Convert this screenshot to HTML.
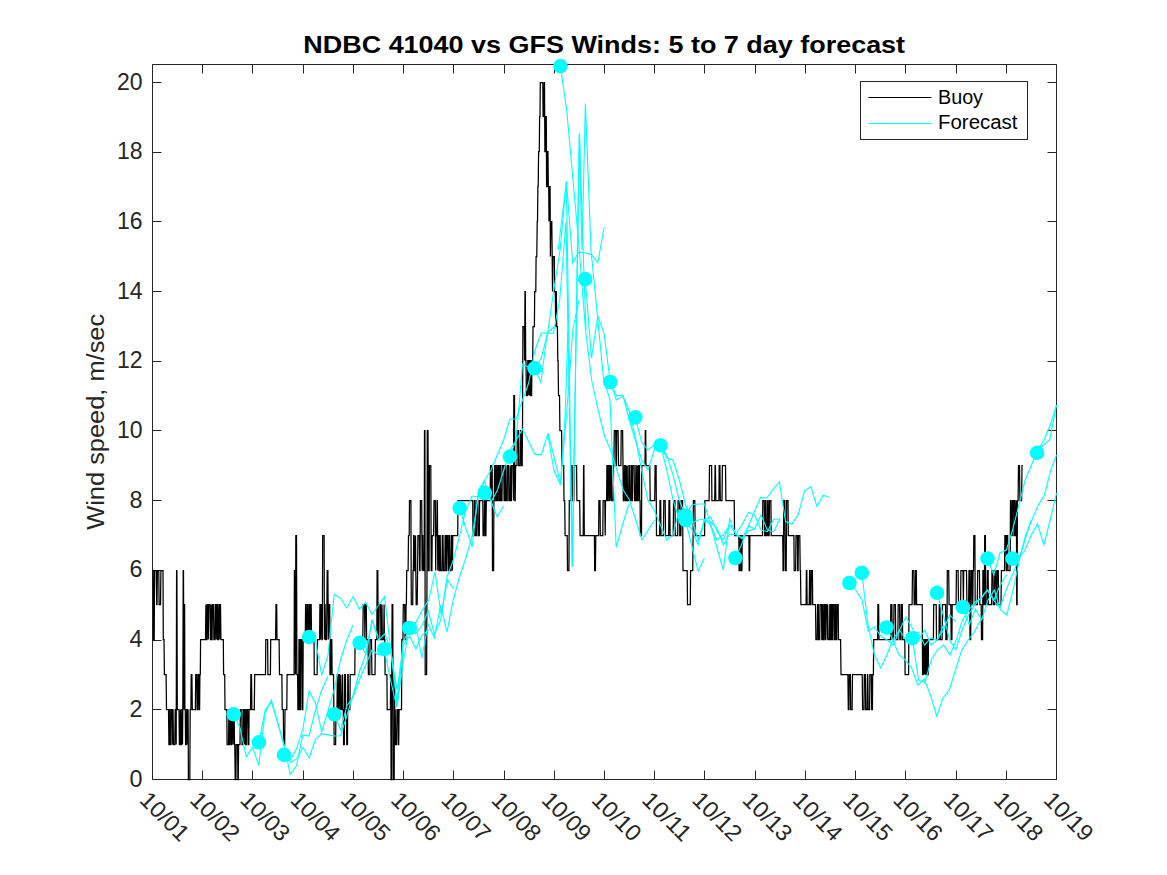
<!DOCTYPE html><html><head><meta charset="utf-8"><style>html,body{margin:0;padding:0;background:#fff;width:1167px;height:875px;overflow:hidden;position:relative}</style></head><body><svg width="1167" height="875" viewBox="0 0 1167 875" style="position:absolute;left:0;top:0"><path d="M152.5 64.5H1056.5V779.5H152.5Z" fill="none" stroke="#262626" stroke-width="1"/><path d="M152.5 779.5v-9M152.5 64.5v9M202.5 779.5v-9M202.5 64.5v9M252.5 779.5v-9M252.5 64.5v9M303.5 779.5v-9M303.5 64.5v9M353.5 779.5v-9M353.5 64.5v9M403.5 779.5v-9M403.5 64.5v9M453.5 779.5v-9M453.5 64.5v9M504.5 779.5v-9M504.5 64.5v9M554.5 779.5v-9M554.5 64.5v9M604.5 779.5v-9M604.5 64.5v9M654.5 779.5v-9M654.5 64.5v9M704.5 779.5v-9M704.5 64.5v9M755.5 779.5v-9M755.5 64.5v9M805.5 779.5v-9M805.5 64.5v9M855.5 779.5v-9M855.5 64.5v9M905.5 779.5v-9M905.5 64.5v9M956.5 779.5v-9M956.5 64.5v9M1006.5 779.5v-9M1006.5 64.5v9M1056.5 779.5v-9M1056.5 64.5v9M152.5 779.5h9M1056.5 779.5h-9M152.5 709.5h9M1056.5 709.5h-9M152.5 640.5h9M1056.5 640.5h-9M152.5 570.5h9M1056.5 570.5h-9M152.5 500.5h9M1056.5 500.5h-9M152.5 430.5h9M1056.5 430.5h-9M152.5 361.5h9M1056.5 361.5h-9M152.5 291.5h9M1056.5 291.5h-9M152.5 221.5h9M1056.5 221.5h-9M152.5 152.5h9M1056.5 152.5h-9M152.5 82.5h9M1056.5 82.5h-9" stroke="#262626" stroke-width="1" fill="none"/><polyline points="152.5,570.5 152.8,570.5 153.2,570.5 153.5,639.5 153.9,639.5 154.2,639.5 154.6,570.5 154.9,570.5 155.3,570.5 155.6,570.5 156.0,570.5 156.3,570.5 156.7,604.5 157.0,604.5 157.4,570.5 157.7,570.5 158.1,570.5 158.4,570.5 158.8,570.5 159.1,604.5 159.5,604.5 159.8,604.5 160.2,604.5 160.5,604.5 160.9,570.5 161.2,570.5 161.6,570.5 161.9,570.5 162.3,570.5 162.6,570.5 163.0,570.5 163.3,639.5 163.7,639.5 164.0,639.5 164.4,674.5 164.7,674.5 165.1,674.5 165.4,674.5 165.8,674.5 166.1,674.5 166.5,709.5 166.8,709.5 167.1,709.5 167.5,709.5 167.8,709.5 168.2,709.5 168.5,709.5 168.9,744.5 169.2,744.5 169.6,709.5 169.9,709.5 170.3,744.5 170.6,744.5 171.0,744.5 171.3,709.5 171.7,709.5 172.0,709.5 172.4,709.5 172.7,744.5 173.1,709.5 173.4,744.5 173.8,744.5 174.1,744.5 174.5,744.5 174.8,744.5 175.2,709.5 175.5,709.5 175.9,709.5 176.2,744.5 176.6,570.5 176.9,570.5 177.3,709.5 177.6,709.5 178.0,709.5 178.3,709.5 178.7,709.5 179.0,709.5 179.4,744.5 179.7,744.5 180.1,744.5 180.4,709.5 180.7,744.5 181.1,744.5 181.4,744.5 181.8,709.5 182.1,709.5 182.5,744.5 182.8,709.5 183.2,570.5 183.5,570.5 183.9,709.5 184.2,604.5 184.6,604.5 184.9,709.5 185.3,709.5 185.6,744.5 186.0,744.5 186.3,744.5 186.7,709.5 187.0,709.5 187.4,709.5 187.7,744.5 188.1,709.5 188.4,779.5 188.8,779.5 189.1,779.5 189.5,779.5 189.8,779.5 190.2,709.5 190.5,709.5 190.9,709.5 191.2,674.5 191.6,674.5 191.9,674.5 192.3,709.5 192.6,709.5 193.0,709.5 193.3,709.5 193.7,709.5 194.0,709.5 194.4,709.5 194.7,709.5 195.0,709.5 195.4,709.5 195.7,674.5 196.1,674.5 196.4,674.5 196.8,674.5 197.1,709.5 197.5,709.5 197.8,709.5 198.2,674.5 198.5,674.5 198.9,674.5 199.2,709.5 199.6,709.5 199.9,674.5 200.3,674.5 200.6,639.5 201.0,639.5 201.3,639.5 201.7,639.5 202.0,639.5 202.4,639.5 202.7,639.5 203.1,639.5 203.4,639.5 203.8,639.5 204.1,639.5 204.5,639.5 204.8,639.5 205.2,639.5 205.5,639.5 205.9,604.5 206.2,639.5 206.6,639.5 206.9,639.5 207.3,604.5 207.6,604.5 208.0,604.5 208.3,639.5 208.7,604.5 209.0,604.5 209.3,604.5 209.7,604.5 210.0,604.5 210.4,639.5 210.7,639.5 211.1,639.5 211.4,604.5 211.8,639.5 212.1,639.5 212.5,604.5 212.8,604.5 213.2,604.5 213.5,604.5 213.9,639.5 214.2,639.5 214.6,639.5 214.9,639.5 215.3,604.5 215.6,604.5 216.0,604.5 216.3,639.5 216.7,604.5 217.0,604.5 217.4,604.5 217.7,639.5 218.1,639.5 218.4,639.5 218.8,604.5 219.1,604.5 219.5,604.5 219.8,639.5 220.2,604.5 220.5,604.5 220.9,639.5 221.2,639.5 221.6,639.5 221.9,639.5 222.3,639.5 222.6,639.5 223.0,639.5 223.3,639.5 223.6,674.5 224.0,674.5 224.3,674.5 224.7,674.5 225.0,709.5 225.4,709.5 225.7,709.5 226.1,709.5 226.4,709.5 226.8,709.5 227.1,744.5 227.5,744.5 227.8,744.5 228.2,744.5 228.5,744.5 228.9,709.5 229.2,709.5 229.6,744.5 229.9,744.5 230.3,709.5 230.6,709.5 231.0,709.5 231.3,744.5 231.7,744.5 232.0,709.5 232.4,709.5 232.7,709.5 233.1,744.5 233.4,709.5 233.8,709.5 234.1,709.5 234.5,744.5 234.8,744.5 235.2,779.5 235.5,779.5 235.9,779.5 236.2,744.5 236.6,744.5 236.9,744.5 237.2,744.5 237.6,744.5 237.9,779.5 238.3,779.5 238.6,744.5 239.0,744.5 239.3,744.5 239.7,744.5 240.0,744.5 240.4,709.5 240.7,709.5 241.1,709.5 241.4,709.5 241.8,709.5 242.1,744.5 242.5,744.5 242.8,744.5 243.2,744.5 243.5,709.5 243.9,709.5 244.2,744.5 244.6,709.5 244.9,709.5 245.3,709.5 245.6,744.5 246.0,744.5 246.3,744.5 246.7,709.5 247.0,709.5 247.4,709.5 247.7,709.5 248.1,744.5 248.4,744.5 248.8,744.5 249.1,709.5 249.5,709.5 249.8,709.5 250.2,709.5 250.5,709.5 250.9,674.5 251.2,674.5 251.5,674.5 251.9,709.5 252.2,709.5 252.6,709.5 252.9,709.5 253.3,709.5 253.6,709.5 254.0,709.5 254.3,709.5 254.7,674.5 255.0,674.5 255.4,674.5 255.7,674.5 256.1,674.5 256.4,674.5 256.8,674.5 257.1,674.5 257.5,674.5 257.8,674.5 258.2,674.5 258.5,674.5 258.9,674.5 259.2,674.5 259.6,674.5 259.9,674.5 260.3,674.5 260.6,674.5 261.0,674.5 261.3,674.5 261.7,674.5 262.0,674.5 262.4,674.5 262.7,674.5 263.1,674.5 263.4,674.5 263.8,674.5 264.1,674.5 264.5,674.5 264.8,674.5 265.2,674.5 265.5,674.5 265.8,639.5 266.2,639.5 266.5,639.5 266.9,639.5 267.2,639.5 267.6,639.5 267.9,674.5 268.3,674.5 268.6,674.5 269.0,674.5 269.3,674.5 269.7,674.5 270.0,674.5 270.4,674.5 270.7,639.5 271.1,639.5 271.4,639.5 271.8,639.5 272.1,639.5 272.5,639.5 272.8,639.5 273.2,639.5 273.5,639.5 273.9,639.5 274.2,639.5 274.6,639.5 274.9,639.5 275.3,639.5 275.6,639.5 276.0,604.5 276.3,604.5 276.7,604.5 277.0,639.5 277.4,639.5 277.7,639.5 278.1,639.5 278.4,639.5 278.8,639.5 279.1,639.5 279.5,674.5 279.8,674.5 280.1,674.5 280.5,674.5 280.8,674.5 281.2,674.5 281.5,674.5 281.9,674.5 282.2,709.5 282.6,709.5 282.9,709.5 283.3,709.5 283.6,744.5 284.0,744.5 284.3,744.5 284.7,744.5 285.0,709.5 285.4,709.5 285.7,709.5 286.1,709.5 286.4,709.5 286.8,709.5 287.1,674.5 287.5,674.5 287.8,674.5 288.2,674.5 288.5,674.5 288.9,674.5 289.2,674.5 289.6,674.5 289.9,674.5 290.3,674.5 290.6,674.5 291.0,674.5 291.3,674.5 291.7,674.5 292.0,674.5 292.4,674.5 292.7,674.5 293.1,674.5 293.4,674.5 293.7,674.5 294.1,674.5 294.4,570.5 294.8,570.5 295.1,570.5 295.5,674.5 295.8,535.5 296.2,535.5 296.5,535.5 296.9,674.5 297.2,674.5 297.6,674.5 297.9,709.5 298.3,709.5 298.6,709.5 299.0,639.5 299.3,639.5 299.7,709.5 300.0,709.5 300.4,709.5 300.7,639.5 301.1,639.5 301.4,639.5 301.8,639.5 302.1,709.5 302.5,709.5 302.8,709.5 303.2,639.5 303.5,639.5 303.9,639.5 304.2,639.5 304.6,639.5 304.9,639.5 305.3,639.5 305.6,604.5 306.0,604.5 306.3,639.5 306.7,639.5 307.0,639.5 307.4,604.5 307.7,604.5 308.0,604.5 308.4,639.5 308.7,639.5 309.1,639.5 309.4,604.5 309.8,604.5 310.1,639.5 310.5,639.5 310.8,604.5 311.2,604.5 311.5,639.5 311.9,639.5 312.2,639.5 312.6,639.5 312.9,639.5 313.3,639.5 313.6,639.5 314.0,639.5 314.3,674.5 314.7,674.5 315.0,674.5 315.4,674.5 315.7,674.5 316.1,674.5 316.4,674.5 316.8,674.5 317.1,674.5 317.5,639.5 317.8,639.5 318.2,639.5 318.5,639.5 318.9,639.5 319.2,639.5 319.6,639.5 319.9,604.5 320.3,604.5 320.6,639.5 321.0,604.5 321.3,604.5 321.7,604.5 322.0,639.5 322.3,639.5 322.7,535.5 323.0,535.5 323.4,535.5 323.7,535.5 324.1,535.5 324.4,639.5 324.8,604.5 325.1,604.5 325.5,639.5 325.8,639.5 326.2,639.5 326.5,639.5 326.9,604.5 327.2,570.5 327.6,570.5 327.9,570.5 328.3,639.5 328.6,604.5 329.0,604.5 329.3,604.5 329.7,604.5 330.0,674.5 330.4,674.5 330.7,674.5 331.1,639.5 331.4,639.5 331.8,639.5 332.1,674.5 332.5,674.5 332.8,674.5 333.2,674.5 333.5,674.5 333.9,709.5 334.2,744.5 334.6,744.5 334.9,744.5 335.3,744.5 335.6,744.5 336.0,709.5 336.3,709.5 336.6,709.5 337.0,709.5 337.3,674.5 337.7,674.5 338.0,709.5 338.4,709.5 338.7,674.5 339.1,674.5 339.4,674.5 339.8,709.5 340.1,709.5 340.5,709.5 340.8,674.5 341.2,709.5 341.5,709.5 341.9,709.5 342.2,709.5 342.6,674.5 342.9,709.5 343.3,709.5 343.6,744.5 344.0,744.5 344.3,744.5 344.7,674.5 345.0,674.5 345.4,674.5 345.7,709.5 346.1,709.5 346.4,709.5 346.8,744.5 347.1,744.5 347.5,744.5 347.8,674.5 348.2,674.5 348.5,709.5 348.9,709.5 349.2,709.5 349.6,709.5 349.9,709.5 350.2,674.5 350.6,674.5 350.9,674.5 351.3,674.5 351.6,674.5 352.0,674.5 352.3,674.5 352.7,674.5 353.0,674.5 353.4,674.5 353.7,674.5 354.1,674.5 354.4,674.5 354.8,674.5 355.1,639.5 355.5,639.5 355.8,639.5 356.2,639.5 356.5,639.5 356.9,639.5 357.2,639.5 357.6,639.5 357.9,639.5 358.3,639.5 358.6,639.5 359.0,639.5 359.3,639.5 359.7,639.5 360.0,639.5 360.4,639.5 360.7,639.5 361.1,639.5 361.4,639.5 361.8,639.5 362.1,639.5 362.5,639.5 362.8,639.5 363.2,604.5 363.5,604.5 363.9,604.5 364.2,604.5 364.5,604.5 364.9,639.5 365.2,604.5 365.6,604.5 365.9,604.5 366.3,604.5 366.6,639.5 367.0,639.5 367.3,639.5 367.7,639.5 368.0,639.5 368.4,674.5 368.7,674.5 369.1,674.5 369.4,674.5 369.8,674.5 370.1,639.5 370.5,639.5 370.8,639.5 371.2,639.5 371.5,639.5 371.9,674.5 372.2,674.5 372.6,674.5 372.9,674.5 373.3,674.5 373.6,674.5 374.0,674.5 374.3,674.5 374.7,674.5 375.0,674.5 375.4,639.5 375.7,639.5 376.1,639.5 376.4,639.5 376.8,639.5 377.1,570.5 377.5,570.5 377.8,570.5 378.2,639.5 378.5,639.5 378.8,639.5 379.2,604.5 379.5,604.5 379.9,604.5 380.2,604.5 380.6,604.5 380.9,639.5 381.3,639.5 381.6,639.5 382.0,604.5 382.3,639.5 382.7,639.5 383.0,639.5 383.4,639.5 383.7,639.5 384.1,604.5 384.4,639.5 384.8,639.5 385.1,674.5 385.5,674.5 385.8,674.5 386.2,674.5 386.5,674.5 386.9,674.5 387.2,709.5 387.6,709.5 387.9,709.5 388.3,709.5 388.6,709.5 389.0,709.5 389.3,709.5 389.7,709.5 390.0,709.5 390.4,709.5 390.7,674.5 391.1,779.5 391.4,779.5 391.8,674.5 392.1,604.5 392.5,604.5 392.8,604.5 393.1,779.5 393.5,779.5 393.8,779.5 394.2,779.5 394.5,674.5 394.9,744.5 395.2,709.5 395.6,744.5 395.9,744.5 396.3,744.5 396.6,744.5 397.0,709.5 397.3,709.5 397.7,709.5 398.0,709.5 398.4,744.5 398.7,744.5 399.1,709.5 399.4,709.5 399.8,709.5 400.1,709.5 400.5,709.5 400.8,709.5 401.2,709.5 401.5,709.5 401.9,639.5 402.2,639.5 402.6,639.5 402.9,639.5 403.3,604.5 403.6,604.5 404.0,604.5 404.3,604.5 404.7,604.5 405.0,639.5 405.4,639.5 405.7,639.5 406.1,604.5 406.4,604.5 406.7,570.5 407.1,570.5 407.4,570.5 407.8,570.5 408.1,570.5 408.5,535.5 408.8,535.5 409.2,535.5 409.5,500.5 409.9,500.5 410.2,500.5 410.6,500.5 410.9,500.5 411.3,604.5 411.6,604.5 412.0,604.5 412.3,604.5 412.7,604.5 413.0,570.5 413.4,570.5 413.7,535.5 414.1,535.5 414.4,570.5 414.8,570.5 415.1,570.5 415.5,535.5 415.8,570.5 416.2,604.5 416.5,604.5 416.9,604.5 417.2,604.5 417.6,570.5 417.9,535.5 418.3,535.5 418.6,535.5 419.0,535.5 419.3,535.5 419.7,570.5 420.0,570.5 420.4,500.5 420.7,500.5 421.0,500.5 421.4,500.5 421.7,500.5 422.1,570.5 422.4,535.5 422.8,535.5 423.1,570.5 423.5,570.5 423.8,570.5 424.2,570.5 424.5,430.5 424.9,430.5 425.2,674.5 425.6,674.5 425.9,674.5 426.3,674.5 426.6,674.5 427.0,570.5 427.3,430.5 427.7,430.5 428.0,430.5 428.4,570.5 428.7,570.5 429.1,570.5 429.4,465.5 429.8,465.5 430.1,465.5 430.5,465.5 430.8,465.5 431.2,570.5 431.5,570.5 431.9,570.5 432.2,535.5 432.6,535.5 432.9,535.5 433.3,535.5 433.6,535.5 434.0,500.5 434.3,500.5 434.7,500.5 435.0,500.5 435.3,500.5 435.7,570.5 436.0,535.5 436.4,535.5 436.7,535.5 437.1,500.5 437.4,500.5 437.8,570.5 438.1,535.5 438.5,535.5 438.8,535.5 439.2,570.5 439.5,570.5 439.9,535.5 440.2,535.5 440.6,570.5 440.9,570.5 441.3,570.5 441.6,570.5 442.0,570.5 442.3,535.5 442.7,535.5 443.0,535.5 443.4,570.5 443.7,570.5 444.1,570.5 444.4,570.5 444.8,570.5 445.1,535.5 445.5,535.5 445.8,535.5 446.2,570.5 446.5,570.5 446.9,535.5 447.2,535.5 447.6,535.5 447.9,535.5 448.3,570.5 448.6,570.5 449.0,570.5 449.3,535.5 449.6,535.5 450.0,570.5 450.3,570.5 450.7,570.5 451.0,570.5 451.4,535.5 451.7,535.5 452.1,535.5 452.4,570.5 452.8,535.5 453.1,535.5 453.5,535.5 453.8,535.5 454.2,535.5 454.5,535.5 454.9,535.5 455.2,535.5 455.6,535.5 455.9,535.5 456.3,535.5 456.6,535.5 457.0,535.5 457.3,535.5 457.7,535.5 458.0,500.5 458.4,500.5 458.7,500.5 459.1,500.5 459.4,500.5 459.8,500.5 460.1,500.5 460.5,500.5 460.8,500.5 461.2,500.5 461.5,500.5 461.9,500.5 462.2,500.5 462.6,500.5 462.9,500.5 463.2,500.5 463.6,500.5 463.9,500.5 464.3,500.5 464.6,500.5 465.0,500.5 465.3,500.5 465.7,500.5 466.0,500.5 466.4,500.5 466.7,500.5 467.1,500.5 467.4,500.5 467.8,500.5 468.1,500.5 468.5,500.5 468.8,500.5 469.2,500.5 469.5,500.5 469.9,500.5 470.2,500.5 470.6,500.5 470.9,500.5 471.3,500.5 471.6,500.5 472.0,500.5 472.3,500.5 472.7,500.5 473.0,535.5 473.4,535.5 473.7,535.5 474.1,535.5 474.4,500.5 474.8,500.5 475.1,500.5 475.5,535.5 475.8,535.5 476.2,535.5 476.5,535.5 476.9,500.5 477.2,500.5 477.5,500.5 477.9,500.5 478.2,535.5 478.6,535.5 478.9,535.5 479.3,535.5 479.6,500.5 480.0,500.5 480.3,500.5 480.7,500.5 481.0,500.5 481.4,500.5 481.7,500.5 482.1,500.5 482.4,500.5 482.8,500.5 483.1,535.5 483.5,535.5 483.8,535.5 484.2,535.5 484.5,500.5 484.9,500.5 485.2,500.5 485.6,535.5 485.9,535.5 486.3,500.5 486.6,500.5 487.0,500.5 487.3,500.5 487.7,500.5 488.0,500.5 488.4,500.5 488.7,500.5 489.1,500.5 489.4,500.5 489.8,500.5 490.1,500.5 490.5,465.5 490.8,465.5 491.2,465.5 491.5,500.5 491.8,500.5 492.2,465.5 492.5,570.5 492.9,570.5 493.2,570.5 493.6,570.5 493.9,500.5 494.3,500.5 494.6,465.5 495.0,465.5 495.3,465.5 495.7,500.5 496.0,500.5 496.4,500.5 496.7,465.5 497.1,465.5 497.4,500.5 497.8,500.5 498.1,500.5 498.5,465.5 498.8,465.5 499.2,465.5 499.5,500.5 499.9,500.5 500.2,465.5 500.6,465.5 500.9,500.5 501.3,500.5 501.6,500.5 502.0,500.5 502.3,465.5 502.7,465.5 503.0,465.5 503.4,465.5 503.7,465.5 504.1,500.5 504.4,500.5 504.8,500.5 505.1,465.5 505.5,465.5 505.8,465.5 506.1,500.5 506.5,500.5 506.8,500.5 507.2,500.5 507.5,465.5 507.9,465.5 508.2,465.5 508.6,465.5 508.9,500.5 509.3,500.5 509.6,500.5 510.0,500.5 510.3,465.5 510.7,500.5 511.0,500.5 511.4,500.5 511.7,465.5 512.1,465.5 512.4,465.5 512.8,465.5 513.1,465.5 513.5,500.5 513.8,395.5 514.2,395.5 514.5,395.5 514.9,500.5 515.2,500.5 515.6,465.5 515.9,465.5 516.3,465.5 516.6,465.5 517.0,465.5 517.3,430.5 517.7,430.5 518.0,430.5 518.4,430.5 518.7,465.5 519.1,465.5 519.4,465.5 519.7,465.5 520.1,465.5 520.4,430.5 520.8,430.5 521.1,430.5 521.5,465.5 521.8,465.5 522.2,465.5 522.5,430.5 522.9,326.5 523.2,326.5 523.6,326.5 523.9,326.5 524.3,326.5 524.6,360.5 525.0,291.5 525.3,291.5 525.7,360.5 526.0,360.5 526.4,395.5 526.7,395.5 527.1,395.5 527.4,395.5 527.8,360.5 528.1,360.5 528.5,360.5 528.8,395.5 529.2,360.5 529.5,360.5 529.9,395.5 530.2,360.5 530.6,360.5 530.9,395.5 531.3,395.5 531.6,395.5 532.0,360.5 532.3,360.5 532.7,360.5 533.0,326.5 533.4,326.5 533.7,326.5 534.0,326.5 534.4,326.5 534.7,291.5 535.1,291.5 535.4,291.5 535.8,291.5 536.1,256.5 536.5,256.5 536.8,256.5 537.2,221.5 537.5,221.5 537.9,186.5 538.2,186.5 538.6,151.5 538.9,151.5 539.3,151.5 539.6,116.5 540.0,116.5 540.3,82.5 540.7,82.5 541.0,82.5 541.4,82.5 541.7,82.5 542.1,82.5 542.4,82.5 542.8,82.5 543.1,116.5 543.5,116.5 543.8,116.5 544.2,82.5 544.5,82.5 544.9,151.5 545.2,151.5 545.6,116.5 545.9,116.5 546.3,116.5 546.6,186.5 547.0,186.5 547.3,151.5 547.7,151.5 548.0,151.5 548.3,186.5 548.7,186.5 549.0,221.5 549.4,186.5 549.7,186.5 550.1,186.5 550.4,256.5 550.8,221.5 551.1,221.5 551.5,221.5 551.8,221.5 552.2,256.5 552.5,291.5 552.9,256.5 553.2,256.5 553.6,256.5 553.9,256.5 554.3,256.5 554.6,291.5 555.0,291.5 555.3,291.5 555.7,326.5 556.0,291.5 556.4,291.5 556.7,326.5 557.1,326.5 557.4,326.5 557.8,360.5 558.1,360.5 558.5,395.5 558.8,395.5 559.2,395.5 559.5,395.5 559.9,430.5 560.2,430.5 560.6,430.5 560.9,430.5 561.3,430.5 561.6,430.5 562.0,465.5 562.3,465.5 562.6,465.5 563.0,465.5 563.3,465.5 563.7,465.5 564.0,500.5 564.4,500.5 564.7,500.5 565.1,535.5 565.4,535.5 565.8,535.5 566.1,535.5 566.5,535.5 566.8,535.5 567.2,535.5 567.5,570.5 567.9,570.5 568.2,570.5 568.6,570.5 568.9,570.5 569.3,500.5 569.6,500.5 570.0,500.5 570.3,500.5 570.7,500.5 571.0,500.5 571.4,465.5 571.7,465.5 572.1,465.5 572.4,500.5 572.8,500.5 573.1,500.5 573.5,500.5 573.8,500.5 574.2,465.5 574.5,465.5 574.9,465.5 575.2,465.5 575.6,465.5 575.9,465.5 576.2,465.5 576.6,465.5 576.9,500.5 577.3,500.5 577.6,500.5 578.0,500.5 578.3,500.5 578.7,500.5 579.0,500.5 579.4,500.5 579.7,500.5 580.1,535.5 580.4,535.5 580.8,535.5 581.1,535.5 581.5,535.5 581.8,535.5 582.2,535.5 582.5,535.5 582.9,535.5 583.2,535.5 583.6,465.5 583.9,465.5 584.3,535.5 584.6,535.5 585.0,535.5 585.3,535.5 585.7,535.5 586.0,535.5 586.4,535.5 586.7,535.5 587.1,535.5 587.4,535.5 587.8,535.5 588.1,535.5 588.5,535.5 588.8,535.5 589.2,535.5 589.5,535.5 589.9,535.5 590.2,535.5 590.5,535.5 590.9,535.5 591.2,535.5 591.6,535.5 591.9,535.5 592.3,535.5 592.6,535.5 593.0,535.5 593.3,535.5 593.7,535.5 594.0,535.5 594.4,535.5 594.7,570.5 595.1,570.5 595.4,570.5 595.8,535.5 596.1,535.5 596.5,535.5 596.8,535.5 597.2,535.5 597.5,535.5 597.9,535.5 598.2,535.5 598.6,535.5 598.9,500.5 599.3,500.5 599.6,500.5 600.0,500.5 600.3,535.5 600.7,535.5 601.0,535.5 601.4,535.5 601.7,535.5 602.1,535.5 602.4,535.5 602.8,535.5 603.1,500.5 603.5,500.5 603.8,500.5 604.2,500.5 604.5,500.5 604.8,500.5 605.2,535.5 605.5,500.5 605.9,500.5 606.2,500.5 606.6,500.5 606.9,465.5 607.3,465.5 607.6,500.5 608.0,500.5 608.3,465.5 608.7,465.5 609.0,465.5 609.4,500.5 609.7,500.5 610.1,465.5 610.4,465.5 610.8,465.5 611.1,500.5 611.5,465.5 611.8,500.5 612.2,500.5 612.5,500.5 612.9,500.5 613.2,500.5 613.6,465.5 613.9,465.5 614.3,430.5 614.6,430.5 615.0,430.5 615.3,430.5 615.7,430.5 616.0,465.5 616.4,465.5 616.7,430.5 617.1,430.5 617.4,430.5 617.8,430.5 618.1,430.5 618.5,465.5 618.8,465.5 619.1,465.5 619.5,465.5 619.8,465.5 620.2,465.5 620.5,465.5 620.9,465.5 621.2,430.5 621.6,430.5 621.9,430.5 622.3,430.5 622.6,430.5 623.0,465.5 623.3,500.5 623.7,500.5 624.0,500.5 624.4,465.5 624.7,465.5 625.1,465.5 625.4,500.5 625.8,500.5 626.1,465.5 626.5,500.5 626.8,500.5 627.2,465.5 627.5,500.5 627.9,500.5 628.2,500.5 628.6,500.5 628.9,465.5 629.3,465.5 629.6,500.5 630.0,500.5 630.3,500.5 630.7,500.5 631.0,465.5 631.4,465.5 631.7,500.5 632.1,500.5 632.4,500.5 632.7,465.5 633.1,465.5 633.4,465.5 633.8,465.5 634.1,465.5 634.5,500.5 634.8,500.5 635.2,500.5 635.5,500.5 635.9,465.5 636.2,465.5 636.6,500.5 636.9,500.5 637.3,500.5 637.6,465.5 638.0,500.5 638.3,500.5 638.7,465.5 639.0,465.5 639.4,465.5 639.7,500.5 640.1,500.5 640.4,535.5 640.8,535.5 641.1,535.5 641.5,535.5 641.8,465.5 642.2,465.5 642.5,465.5 642.9,465.5 643.2,465.5 643.6,465.5 643.9,465.5 644.3,465.5 644.6,465.5 645.0,465.5 645.3,430.5 645.7,430.5 646.0,465.5 646.4,465.5 646.7,465.5 647.0,465.5 647.4,465.5 647.7,465.5 648.1,465.5 648.4,465.5 648.8,465.5 649.1,465.5 649.5,465.5 649.8,465.5 650.2,500.5 650.5,500.5 650.9,500.5 651.2,500.5 651.6,500.5 651.9,500.5 652.3,500.5 652.6,500.5 653.0,500.5 653.3,500.5 653.7,500.5 654.0,500.5 654.4,500.5 654.7,500.5 655.1,465.5 655.4,465.5 655.8,465.5 656.1,465.5 656.5,535.5 656.8,535.5 657.2,535.5 657.5,535.5 657.9,535.5 658.2,535.5 658.6,535.5 658.9,535.5 659.3,535.5 659.6,535.5 660.0,500.5 660.3,500.5 660.7,500.5 661.0,535.5 661.3,535.5 661.7,535.5 662.0,535.5 662.4,535.5 662.7,535.5 663.1,535.5 663.4,535.5 663.8,500.5 664.1,500.5 664.5,500.5 664.8,500.5 665.2,500.5 665.5,535.5 665.9,535.5 666.2,535.5 666.6,535.5 666.9,535.5 667.3,535.5 667.6,535.5 668.0,535.5 668.3,535.5 668.7,535.5 669.0,500.5 669.4,500.5 669.7,500.5 670.1,535.5 670.4,535.5 670.8,535.5 671.1,535.5 671.5,535.5 671.8,535.5 672.2,535.5 672.5,535.5 672.9,535.5 673.2,535.5 673.6,500.5 673.9,500.5 674.3,500.5 674.6,500.5 675.0,500.5 675.3,535.5 675.6,535.5 676.0,535.5 676.3,535.5 676.7,535.5 677.0,535.5 677.4,535.5 677.7,535.5 678.1,500.5 678.4,500.5 678.8,500.5 679.1,500.5 679.5,500.5 679.8,535.5 680.2,535.5 680.5,535.5 680.9,535.5 681.2,500.5 681.6,500.5 681.9,500.5 682.3,500.5 682.6,500.5 683.0,570.5 683.3,570.5 683.7,570.5 684.0,570.5 684.4,570.5 684.7,570.5 685.1,570.5 685.4,570.5 685.8,570.5 686.1,570.5 686.5,570.5 686.8,570.5 687.2,570.5 687.5,604.5 687.9,604.5 688.2,604.5 688.6,604.5 688.9,604.5 689.2,604.5 689.6,604.5 689.9,604.5 690.3,604.5 690.6,570.5 691.0,570.5 691.3,570.5 691.7,570.5 692.0,570.5 692.4,570.5 692.7,570.5 693.1,535.5 693.4,500.5 693.8,500.5 694.1,500.5 694.5,500.5 694.8,500.5 695.2,535.5 695.5,535.5 695.9,535.5 696.2,535.5 696.6,535.5 696.9,535.5 697.3,535.5 697.6,535.5 698.0,535.5 698.3,535.5 698.7,535.5 699.0,535.5 699.4,535.5 699.7,535.5 700.1,535.5 700.4,535.5 700.8,535.5 701.1,535.5 701.5,535.5 701.8,535.5 702.2,535.5 702.5,535.5 702.9,535.5 703.2,535.5 703.5,535.5 703.9,535.5 704.2,535.5 704.6,535.5 704.9,500.5 705.3,500.5 705.6,500.5 706.0,500.5 706.3,500.5 706.7,500.5 707.0,500.5 707.4,500.5 707.7,500.5 708.1,500.5 708.4,500.5 708.8,500.5 709.1,500.5 709.5,465.5 709.8,465.5 710.2,465.5 710.5,465.5 710.9,465.5 711.2,465.5 711.6,465.5 711.9,500.5 712.3,500.5 712.6,500.5 713.0,500.5 713.3,500.5 713.7,500.5 714.0,500.5 714.4,500.5 714.7,500.5 715.1,465.5 715.4,465.5 715.8,500.5 716.1,500.5 716.5,500.5 716.8,500.5 717.2,500.5 717.5,500.5 717.8,500.5 718.2,500.5 718.5,500.5 718.9,500.5 719.2,465.5 719.6,465.5 719.9,465.5 720.3,500.5 720.6,500.5 721.0,500.5 721.3,500.5 721.7,500.5 722.0,500.5 722.4,465.5 722.7,465.5 723.1,465.5 723.4,465.5 723.8,465.5 724.1,465.5 724.5,465.5 724.8,465.5 725.2,465.5 725.5,465.5 725.9,500.5 726.2,500.5 726.6,500.5 726.9,500.5 727.3,500.5 727.6,500.5 728.0,500.5 728.3,500.5 728.7,500.5 729.0,500.5 729.4,500.5 729.7,500.5 730.1,500.5 730.4,500.5 730.8,500.5 731.1,500.5 731.5,500.5 731.8,500.5 732.1,500.5 732.5,500.5 732.8,500.5 733.2,500.5 733.5,500.5 733.9,500.5 734.2,500.5 734.6,535.5 734.9,535.5 735.3,535.5 735.6,535.5 736.0,535.5 736.3,535.5 736.7,535.5 737.0,535.5 737.4,535.5 737.7,535.5 738.1,535.5 738.4,535.5 738.8,535.5 739.1,570.5 739.5,570.5 739.8,570.5 740.2,535.5 740.5,535.5 740.9,535.5 741.2,570.5 741.6,570.5 741.9,570.5 742.3,535.5 742.6,535.5 743.0,535.5 743.3,535.5 743.7,535.5 744.0,535.5 744.4,535.5 744.7,535.5 745.1,535.5 745.4,535.5 745.7,535.5 746.1,535.5 746.4,535.5 746.8,535.5 747.1,535.5 747.5,535.5 747.8,535.5 748.2,535.5 748.5,535.5 748.9,535.5 749.2,570.5 749.6,570.5 749.9,535.5 750.3,535.5 750.6,535.5 751.0,535.5 751.3,535.5 751.7,535.5 752.0,535.5 752.4,535.5 752.7,535.5 753.1,535.5 753.4,535.5 753.8,535.5 754.1,535.5 754.5,535.5 754.8,535.5 755.2,535.5 755.5,535.5 755.9,535.5 756.2,535.5 756.6,535.5 756.9,535.5 757.3,535.5 757.6,535.5 758.0,535.5 758.3,535.5 758.7,535.5 759.0,535.5 759.4,535.5 759.7,535.5 760.0,535.5 760.4,535.5 760.7,535.5 761.1,535.5 761.4,535.5 761.8,535.5 762.1,535.5 762.5,535.5 762.8,500.5 763.2,500.5 763.5,500.5 763.9,500.5 764.2,500.5 764.6,535.5 764.9,535.5 765.3,535.5 765.6,500.5 766.0,500.5 766.3,535.5 766.7,535.5 767.0,535.5 767.4,535.5 767.7,500.5 768.1,500.5 768.4,535.5 768.8,535.5 769.1,535.5 769.5,500.5 769.8,500.5 770.2,500.5 770.5,500.5 770.9,500.5 771.2,535.5 771.6,535.5 771.9,535.5 772.3,535.5 772.6,535.5 773.0,535.5 773.3,535.5 773.7,535.5 774.0,535.5 774.3,535.5 774.7,535.5 775.0,535.5 775.4,535.5 775.7,535.5 776.1,535.5 776.4,535.5 776.8,535.5 777.1,535.5 777.5,535.5 777.8,535.5 778.2,535.5 778.5,535.5 778.9,535.5 779.2,535.5 779.6,535.5 779.9,535.5 780.3,535.5 780.6,535.5 781.0,535.5 781.3,535.5 781.7,535.5 782.0,535.5 782.4,535.5 782.7,535.5 783.1,570.5 783.4,570.5 783.8,500.5 784.1,500.5 784.5,500.5 784.8,500.5 785.2,570.5 785.5,570.5 785.9,570.5 786.2,570.5 786.6,500.5 786.9,500.5 787.3,500.5 787.6,500.5 788.0,500.5 788.3,535.5 788.6,535.5 789.0,535.5 789.3,535.5 789.7,535.5 790.0,535.5 790.4,535.5 790.7,535.5 791.1,535.5 791.4,535.5 791.8,535.5 792.1,535.5 792.5,535.5 792.8,535.5 793.2,535.5 793.5,535.5 793.9,535.5 794.2,570.5 794.6,570.5 794.9,570.5 795.3,570.5 795.6,570.5 796.0,535.5 796.3,535.5 796.7,535.5 797.0,535.5 797.4,535.5 797.7,570.5 798.1,570.5 798.4,535.5 798.8,535.5 799.1,535.5 799.5,535.5 799.8,535.5 800.2,570.5 800.5,570.5 800.9,604.5 801.2,604.5 801.6,604.5 801.9,604.5 802.2,604.5 802.6,604.5 802.9,604.5 803.3,604.5 803.6,604.5 804.0,604.5 804.3,604.5 804.7,604.5 805.0,604.5 805.4,604.5 805.7,604.5 806.1,604.5 806.4,570.5 806.8,570.5 807.1,604.5 807.5,604.5 807.8,604.5 808.2,604.5 808.5,604.5 808.9,604.5 809.2,604.5 809.6,570.5 809.9,570.5 810.3,604.5 810.6,604.5 811.0,604.5 811.3,570.5 811.7,570.5 812.0,570.5 812.4,570.5 812.7,604.5 813.1,604.5 813.4,604.5 813.8,604.5 814.1,604.5 814.5,604.5 814.8,604.5 815.2,604.5 815.5,604.5 815.9,639.5 816.2,639.5 816.5,639.5 816.9,639.5 817.2,639.5 817.6,604.5 817.9,604.5 818.3,604.5 818.6,639.5 819.0,639.5 819.3,639.5 819.7,639.5 820.0,604.5 820.4,604.5 820.7,604.5 821.1,604.5 821.4,604.5 821.8,639.5 822.1,639.5 822.5,604.5 822.8,604.5 823.2,639.5 823.5,639.5 823.9,639.5 824.2,604.5 824.6,604.5 824.9,604.5 825.3,639.5 825.6,639.5 826.0,604.5 826.3,604.5 826.7,604.5 827.0,604.5 827.4,639.5 827.7,604.5 828.1,639.5 828.4,639.5 828.8,639.5 829.1,639.5 829.5,639.5 829.8,604.5 830.2,604.5 830.5,639.5 830.8,639.5 831.2,639.5 831.5,604.5 831.9,604.5 832.2,639.5 832.6,639.5 832.9,604.5 833.3,604.5 833.6,604.5 834.0,604.5 834.3,639.5 834.7,639.5 835.0,639.5 835.4,604.5 835.7,604.5 836.1,639.5 836.4,639.5 836.8,639.5 837.1,604.5 837.5,604.5 837.8,604.5 838.2,604.5 838.5,639.5 838.9,639.5 839.2,639.5 839.6,639.5 839.9,639.5 840.3,639.5 840.6,639.5 841.0,674.5 841.3,674.5 841.7,674.5 842.0,674.5 842.4,674.5 842.7,674.5 843.1,674.5 843.4,674.5 843.8,674.5 844.1,674.5 844.5,674.5 844.8,674.5 845.1,674.5 845.5,674.5 845.8,674.5 846.2,674.5 846.5,674.5 846.9,674.5 847.2,674.5 847.6,674.5 847.9,674.5 848.3,709.5 848.6,709.5 849.0,709.5 849.3,674.5 849.7,674.5 850.0,674.5 850.4,674.5 850.7,709.5 851.1,709.5 851.4,709.5 851.8,709.5 852.1,709.5 852.5,674.5 852.8,674.5 853.2,674.5 853.5,674.5 853.9,674.5 854.2,674.5 854.6,674.5 854.9,674.5 855.3,674.5 855.6,674.5 856.0,674.5 856.3,674.5 856.7,674.5 857.0,674.5 857.4,674.5 857.7,674.5 858.1,674.5 858.4,674.5 858.7,674.5 859.1,674.5 859.4,674.5 859.8,674.5 860.1,674.5 860.5,674.5 860.8,674.5 861.2,674.5 861.5,674.5 861.9,674.5 862.2,674.5 862.6,709.5 862.9,709.5 863.3,709.5 863.6,709.5 864.0,709.5 864.3,674.5 864.7,674.5 865.0,674.5 865.4,674.5 865.7,709.5 866.1,709.5 866.4,709.5 866.8,709.5 867.1,709.5 867.5,674.5 867.8,674.5 868.2,709.5 868.5,709.5 868.9,709.5 869.2,709.5 869.6,709.5 869.9,674.5 870.3,674.5 870.6,674.5 871.0,674.5 871.3,674.5 871.7,709.5 872.0,709.5 872.4,709.5 872.7,674.5 873.0,674.5 873.4,674.5 873.7,639.5 874.1,639.5 874.4,639.5 874.8,639.5 875.1,639.5 875.5,639.5 875.8,639.5 876.2,639.5 876.5,639.5 876.9,639.5 877.2,639.5 877.6,639.5 877.9,604.5 878.3,604.5 878.6,604.5 879.0,639.5 879.3,639.5 879.7,639.5 880.0,639.5 880.4,639.5 880.7,639.5 881.1,639.5 881.4,639.5 881.8,639.5 882.1,639.5 882.5,639.5 882.8,639.5 883.2,639.5 883.5,639.5 883.9,639.5 884.2,639.5 884.6,639.5 884.9,639.5 885.3,639.5 885.6,639.5 886.0,639.5 886.3,639.5 886.7,639.5 887.0,639.5 887.3,639.5 887.7,639.5 888.0,639.5 888.4,639.5 888.7,639.5 889.1,639.5 889.4,639.5 889.8,639.5 890.1,639.5 890.5,639.5 890.8,604.5 891.2,604.5 891.5,604.5 891.9,604.5 892.2,639.5 892.6,639.5 892.9,639.5 893.3,639.5 893.6,639.5 894.0,604.5 894.3,604.5 894.7,604.5 895.0,604.5 895.4,604.5 895.7,639.5 896.1,639.5 896.4,639.5 896.8,639.5 897.1,639.5 897.5,639.5 897.8,639.5 898.2,604.5 898.5,604.5 898.9,604.5 899.2,604.5 899.6,604.5 899.9,639.5 900.3,639.5 900.6,639.5 901.0,639.5 901.3,604.5 901.6,604.5 902.0,604.5 902.3,604.5 902.7,639.5 903.0,639.5 903.4,639.5 903.7,639.5 904.1,639.5 904.4,639.5 904.8,639.5 905.1,674.5 905.5,674.5 905.8,674.5 906.2,674.5 906.5,674.5 906.9,674.5 907.2,674.5 907.6,674.5 907.9,674.5 908.3,674.5 908.6,674.5 909.0,604.5 909.3,604.5 909.7,604.5 910.0,604.5 910.4,604.5 910.7,604.5 911.1,604.5 911.4,604.5 911.8,604.5 912.1,604.5 912.5,570.5 912.8,570.5 913.2,570.5 913.5,570.5 913.9,570.5 914.2,604.5 914.6,604.5 914.9,604.5 915.2,604.5 915.6,570.5 915.9,570.5 916.3,570.5 916.6,604.5 917.0,604.5 917.3,604.5 917.7,604.5 918.0,604.5 918.4,604.5 918.7,604.5 919.1,604.5 919.4,604.5 919.8,604.5 920.1,604.5 920.5,604.5 920.8,604.5 921.2,604.5 921.5,604.5 921.9,604.5 922.2,604.5 922.6,674.5 922.9,674.5 923.3,639.5 923.6,639.5 924.0,674.5 924.3,639.5 924.7,639.5 925.0,674.5 925.4,639.5 925.7,639.5 926.1,674.5 926.4,674.5 926.8,674.5 927.1,639.5 927.5,639.5 927.8,674.5 928.2,674.5 928.5,639.5 928.9,639.5 929.2,639.5 929.5,639.5 929.9,639.5 930.2,639.5 930.6,639.5 930.9,639.5 931.3,639.5 931.6,639.5 932.0,639.5 932.3,639.5 932.7,639.5 933.0,639.5 933.4,639.5 933.7,604.5 934.1,604.5 934.4,604.5 934.8,604.5 935.1,604.5 935.5,604.5 935.8,604.5 936.2,604.5 936.5,639.5 936.9,639.5 937.2,639.5 937.6,639.5 937.9,639.5 938.3,639.5 938.6,639.5 939.0,639.5 939.3,604.5 939.7,604.5 940.0,604.5 940.4,639.5 940.7,639.5 941.1,639.5 941.4,639.5 941.8,639.5 942.1,639.5 942.5,604.5 942.8,604.5 943.2,604.5 943.5,604.5 943.8,604.5 944.2,604.5 944.5,604.5 944.9,604.5 945.2,604.5 945.6,604.5 945.9,639.5 946.3,639.5 946.6,639.5 947.0,639.5 947.3,570.5 947.7,570.5 948.0,570.5 948.4,570.5 948.7,570.5 949.1,604.5 949.4,604.5 949.8,604.5 950.1,604.5 950.5,604.5 950.8,604.5 951.2,639.5 951.5,639.5 951.9,639.5 952.2,604.5 952.6,604.5 952.9,604.5 953.3,604.5 953.6,604.5 954.0,604.5 954.3,604.5 954.7,604.5 955.0,604.5 955.4,604.5 955.7,604.5 956.1,604.5 956.4,570.5 956.8,570.5 957.1,570.5 957.5,570.5 957.8,570.5 958.1,570.5 958.5,604.5 958.8,604.5 959.2,604.5 959.5,604.5 959.9,604.5 960.2,604.5 960.6,604.5 960.9,570.5 961.3,570.5 961.6,570.5 962.0,570.5 962.3,570.5 962.7,570.5 963.0,570.5 963.4,604.5 963.7,570.5 964.1,570.5 964.4,570.5 964.8,570.5 965.1,570.5 965.5,570.5 965.8,570.5 966.2,570.5 966.5,570.5 966.9,604.5 967.2,604.5 967.6,604.5 967.9,604.5 968.3,604.5 968.6,604.5 969.0,570.5 969.3,570.5 969.7,570.5 970.0,639.5 970.4,639.5 970.7,639.5 971.1,570.5 971.4,570.5 971.7,570.5 972.1,570.5 972.4,604.5 972.8,604.5 973.1,570.5 973.5,570.5 973.8,535.5 974.2,535.5 974.5,535.5 974.9,535.5 975.2,604.5 975.6,604.5 975.9,604.5 976.3,604.5 976.6,604.5 977.0,604.5 977.3,604.5 977.7,570.5 978.0,570.5 978.4,570.5 978.7,570.5 979.1,570.5 979.4,570.5 979.8,604.5 980.1,604.5 980.5,604.5 980.8,604.5 981.2,604.5 981.5,639.5 981.9,639.5 982.2,639.5 982.6,639.5 982.9,570.5 983.3,570.5 983.6,570.5 984.0,604.5 984.3,604.5 984.7,535.5 985.0,535.5 985.4,535.5 985.7,604.5 986.0,604.5 986.4,604.5 986.7,604.5 987.1,604.5 987.4,570.5 987.8,570.5 988.1,570.5 988.5,604.5 988.8,604.5 989.2,604.5 989.5,604.5 989.9,604.5 990.2,604.5 990.6,604.5 990.9,604.5 991.3,604.5 991.6,604.5 992.0,570.5 992.3,570.5 992.7,570.5 993.0,570.5 993.4,604.5 993.7,604.5 994.1,604.5 994.4,604.5 994.8,570.5 995.1,570.5 995.5,570.5 995.8,570.5 996.2,604.5 996.5,604.5 996.9,604.5 997.2,570.5 997.6,570.5 997.9,570.5 998.3,570.5 998.6,604.5 999.0,604.5 999.3,604.5 999.7,604.5 1000.0,604.5 1000.3,604.5 1000.7,604.5 1001.0,604.5 1001.4,570.5 1001.7,570.5 1002.1,570.5 1002.4,570.5 1002.8,570.5 1003.1,570.5 1003.5,570.5 1003.8,570.5 1004.2,570.5 1004.5,570.5 1004.9,535.5 1005.2,535.5 1005.6,535.5 1005.9,535.5 1006.3,570.5 1006.6,570.5 1007.0,535.5 1007.3,535.5 1007.7,535.5 1008.0,570.5 1008.4,570.5 1008.7,570.5 1009.1,570.5 1009.4,570.5 1009.8,570.5 1010.1,570.5 1010.5,500.5 1010.8,500.5 1011.2,500.5 1011.5,535.5 1011.9,535.5 1012.2,535.5 1012.6,500.5 1012.9,500.5 1013.3,500.5 1013.6,500.5 1014.0,535.5 1014.3,535.5 1014.6,500.5 1015.0,500.5 1015.3,535.5 1015.7,535.5 1016.0,535.5 1016.4,500.5 1016.7,604.5 1017.1,604.5 1017.4,500.5 1017.8,500.5 1018.1,500.5 1018.5,465.5 1018.8,465.5 1019.2,465.5 1019.5,465.5 1019.9,500.5 1020.2,500.5 1020.6,500.5 1020.9,500.5 1021.3,500.5 1021.6,500.5 1022.0,465.5 1022.3,465.5 1022.7,465.5" fill="none" stroke="#000" stroke-width="1.25"/><polyline points="233.7,714.3 240,728 246.3,756.6 252.5,747.5 258.8,765.2 265,713.2 271.3,700 277.6,722.3 283.9,744 290.2,774.3 296.5,765.8 302.8,734.9 309,736 315.3,710.9 321.6,690.3 327.9,676.6" fill="none" stroke="#00ffff" stroke-width="1.1" stroke-linejoin="miter"/><polyline points="258.9,742.3 265.2,709.7 271.4,702.3 277.7,722.3 284,745.2 290.3,760 296.6,748.6 302.9,729.2 309.1,690.9 315.4,702.9 321.7,731.5 328,710.9 334.3,689.1 340.5,660 346.8,640 353,625" fill="none" stroke="#00ffff" stroke-width="1.1" stroke-linejoin="miter"/><polyline points="284,754.9 290.3,762.3 296.6,758.9 302.9,747.5 309.2,757.8 315.4,739.5 321.7,733.7 328,734.9 334.3,736 340.5,735.7 346.8,716 353.1,695 359.4,672 365.6,655 371.9,620.3 378.2,637" fill="none" stroke="#00ffff" stroke-width="1.1" stroke-linejoin="miter"/><polyline points="309.1,637.1 315.4,640 321.7,675 328,655 334.2,594.3 340.5,598.3 346.8,608 353.1,596.6 359.4,609.2 365.6,602.3 371.9,614.3 378.2,605.7 384.5,596.6 390.8,650 397,703 403.3,650" fill="none" stroke="#00ffff" stroke-width="1.1" stroke-linejoin="miter"/><polyline points="334.3,714.3 340.6,730 346.8,706 353.1,697 359.4,680 365.7,665 372,650 378.2,655 384.5,649 390.8,652 397.1,690 403.4,645 409.6,636 415.9,649 422.2,635 428.5,630" fill="none" stroke="#00ffff" stroke-width="1.1" stroke-linejoin="miter"/><polyline points="359.6,642.9 365.9,654 372.2,620 378.4,640 384.7,634 391,650 397.3,705 403.6,660 409.8,625 416.1,622 422.4,610 428.7,600 435,572 441.2,615 447.5,580 453.8,589" fill="none" stroke="#00ffff" stroke-width="1.1" stroke-linejoin="miter"/><polyline points="384.2,649.2 390.5,680 396.8,707 403,643 409.3,628 415.6,634 421.9,626 428.2,611 434.4,634 440.7,620 447,577 453.3,560 459.5,536 465.8,510 472.1,496 478.4,497" fill="none" stroke="#00ffff" stroke-width="1.1" stroke-linejoin="miter"/><polyline points="409.3,628 415.6,623 421.9,658 428.1,624 434.4,638 440.7,605 447,632 453.2,600 459.5,577 465.8,558 472.1,536 478.3,496 484.6,481 490.9,501 497.2,517 503.5,506" fill="none" stroke="#00ffff" stroke-width="1.1" stroke-linejoin="miter"/><polyline points="459.7,508.1 466,529 472.2,547 478.5,490 484.8,480 491.1,470 497.4,455 503.6,440 509.9,419 516.2,419 522.5,400 528.7,383 535,350 541.3,333 547.6,333 553.9,327" fill="none" stroke="#00ffff" stroke-width="1.1" stroke-linejoin="miter"/><polyline points="484.9,493 491.2,501.7 497.5,490 503.8,470 510,450 516.3,440 522.6,428.9 528.9,442.3 535.1,454.6 541.4,454.6 547.7,434 554,470.5 560.2,484.1 566.5,415.7 572.8,330 579,300" fill="none" stroke="#00ffff" stroke-width="1.1" stroke-linejoin="miter"/><polyline points="509.9,456.6 516.2,440 522.5,364.1 528.7,367.2 535,368.2 541.3,357.9 547.6,333.2 553.8,290 560.1,250 566.4,181.5 572.7,262.8 578.9,251.9 585.2,253 591.5,254.6 597.8,262.8 604.2,227.2" fill="none" stroke="#00ffff" stroke-width="1.1" stroke-linejoin="miter"/><polyline points="534.6,368.3 540.9,382.6 547.2,333.2 553.4,333.2 559.7,300 566,221.7 572.3,567 579.3,133.8 582,250 585.4,103.4 591,250 603.7,380 610,400 616.2,547.3 622.5,525 628.8,504.5" fill="none" stroke="#00ffff" stroke-width="1.1" stroke-linejoin="miter"/><polyline points="560.4,66.1 566.7,110 573,180 579.3,250 585.5,330 591.8,381 598.1,410 604.4,435.7 610.6,450 616.9,470 623.2,490 629.5,500 635.7,520 642,540 648.3,530 654.6,520" fill="none" stroke="#00ffff" stroke-width="1.1" stroke-linejoin="miter"/><polyline points="585.2,279.1 591.5,358.2 597.8,315.9 604,333.3 610.3,382.1 616.6,396 622.9,395 629.2,420 635.4,440 641.7,460 648,470 654.3,450 660.6,445 666.8,470 673.1,500 679.4,520" fill="none" stroke="#00ffff" stroke-width="1.1" stroke-linejoin="miter"/><polyline points="610.2,382 616.5,400 622.8,396 629,410 635.3,437 641.6,470 647.9,500 654.1,510 660.4,525 666.7,540 673,535 679.2,510 685.5,520 691.8,546 698.1,571 704.4,558" fill="none" stroke="#00ffff" stroke-width="1.1" stroke-linejoin="miter"/><polyline points="635.3,417.4 641.6,442 647.8,450 654.1,445 660.4,445.3 666.7,455 673,475 679.2,500 685.5,515 691.8,523 698.1,520 704.3,519 710.6,525 716.9,540 723.2,535 729.5,525" fill="none" stroke="#00ffff" stroke-width="1.1" stroke-linejoin="miter"/><polyline points="660.5,445.3 666.8,458 673,460 679.3,480 685.6,505 691.9,520 698.2,540 704.4,520 710.7,522 717,528 723.3,545 729.6,534 735.9,534.6 742.1,538.6 748.4,526 754.7,528.9" fill="none" stroke="#00ffff" stroke-width="1.1" stroke-linejoin="miter"/><polyline points="685.6,515.5 691.9,505 698.2,504 704.5,504 710.7,525 717,548 723.3,570 729.6,519 735.9,534 742.2,538 748.4,531 754.7,529 761,515 767.3,530 773.6,531.7 779.9,519.2" fill="none" stroke="#00ffff" stroke-width="1.1" stroke-linejoin="miter"/><polyline points="735.4,558 741.7,544.3 748,527.2 754.2,512.3 760.5,497.4 766.8,498 773.1,489.4 779.4,482 785.6,521.5 791.9,524.3 798.2,514.6 804.5,491.2 810.8,486.6 817,506.6 823.3,495.2 829.6,497.4" fill="none" stroke="#00ffff" stroke-width="1.1" stroke-linejoin="miter"/><polyline points="849.4,583 855.7,590 862,600 868.2,631 874.5,627 880.8,636 887.1,640 893.3,645 899.6,630 905.9,617 912.2,628 918.5,640 924.7,630 931,645 937.3,640 943.6,625" fill="none" stroke="#00ffff" stroke-width="1.1" stroke-linejoin="miter"/><polyline points="861.8,572.9 868.1,625 874.4,655 880.6,668 886.9,655 893.2,639 899.5,630 905.8,640 912,635 918.3,632 924.6,645 930.9,638 937.1,640 943.4,630 949.7,615 956,622" fill="none" stroke="#00ffff" stroke-width="1.1" stroke-linejoin="miter"/><polyline points="886.5,627.5 892.8,640 899,655 905.3,660 911.6,668 917.9,685 924.2,679 930.4,695 936.7,716 943,698 949.3,690 955.5,670 961.8,650 968.1,640 974.4,632 980.7,620" fill="none" stroke="#00ffff" stroke-width="1.1" stroke-linejoin="miter"/><polyline points="912.3,638.2 918.6,680 924.9,683 931.1,660 937.4,650 943.7,645 950,655 956.3,640 962.5,620 968.8,610 975.1,602 981.4,598 987.6,590 993.9,600 1000.2,585 1006.5,575" fill="none" stroke="#00ffff" stroke-width="1.1" stroke-linejoin="miter"/><polyline points="937,592.8 943.3,615 949.6,640 955.8,650 962.1,630 968.4,615 974.7,605 980.9,598 987.2,590 993.5,600 999.8,608 1006.1,590 1012.3,575 1018.6,560 1024.9,540 1031.2,520" fill="none" stroke="#00ffff" stroke-width="1.1" stroke-linejoin="miter"/><polyline points="962.9,607 969.2,625 975.4,609 981.7,620 988,600 994.3,590 1000.6,610 1006.8,615 1013.1,590 1019.4,560 1025.7,535 1031.9,520 1038.2,505 1044.5,495 1050.8,470 1056.5,455" fill="none" stroke="#00ffff" stroke-width="1.1" stroke-linejoin="miter"/><polyline points="987.5,558.6 993.8,575 1000,553 1006.3,550 1012.6,530 1018.9,505 1025.2,480 1031.4,465 1037.7,450 1044,440 1050.3,425 1056.5,405" fill="none" stroke="#00ffff" stroke-width="1.1" stroke-linejoin="miter"/><polyline points="1012.5,558.6 1018.8,558 1025.1,550 1031.3,535 1037.6,524 1043.9,545 1050.2,520 1056.5,493" fill="none" stroke="#00ffff" stroke-width="1.1" stroke-linejoin="miter"/><polyline points="1037.1,452.8 1043.4,445 1049.7,440 1056.5,405" fill="none" stroke="#00ffff" stroke-width="1.1" stroke-linejoin="miter"/><polyline points="685.8,520 692,530 698.2,545 704.5,520 710.7,517 717,531 723.3,540 729.7,524.9 736,534 742.3,524.3 748.6,512.3 754.8,515.2 761.1,530 767.4,531.7 773.7,519.2 780,519" fill="none" stroke="#00ffff" stroke-width="1.1" stroke-linejoin="miter"/><polyline points="558.2,250 566.4,181.5 572.3,567 579.5,133.8 583.1,250 586,330" fill="none" stroke="#00ffff" stroke-width="1.1"/><polyline points="548,432.9 560.9,484.3 565.1,415.7 568,330" fill="none" stroke="#00ffff" stroke-width="1.1"/><circle cx="233.7" cy="714.3" r="7.3" fill="#00ffff"/><circle cx="258.9" cy="742.3" r="7.3" fill="#00ffff"/><circle cx="284.0" cy="754.9" r="7.3" fill="#00ffff"/><circle cx="309.1" cy="637.1" r="7.3" fill="#00ffff"/><circle cx="334.3" cy="714.3" r="7.3" fill="#00ffff"/><circle cx="359.6" cy="642.9" r="7.3" fill="#00ffff"/><circle cx="384.2" cy="649.2" r="7.3" fill="#00ffff"/><circle cx="409.3" cy="628.0" r="7.3" fill="#00ffff"/><circle cx="459.7" cy="508.1" r="7.3" fill="#00ffff"/><circle cx="484.9" cy="493.0" r="7.3" fill="#00ffff"/><circle cx="509.9" cy="456.6" r="7.3" fill="#00ffff"/><circle cx="534.6" cy="368.3" r="7.3" fill="#00ffff"/><circle cx="560.4" cy="66.1" r="7.3" fill="#00ffff"/><circle cx="585.2" cy="279.1" r="7.3" fill="#00ffff"/><circle cx="610.2" cy="382.0" r="7.3" fill="#00ffff"/><circle cx="635.3" cy="417.4" r="7.3" fill="#00ffff"/><circle cx="660.5" cy="445.3" r="7.3" fill="#00ffff"/><circle cx="685.6" cy="515.5" r="7.3" fill="#00ffff"/><circle cx="735.4" cy="558.0" r="7.3" fill="#00ffff"/><circle cx="849.4" cy="583.0" r="7.3" fill="#00ffff"/><circle cx="861.8" cy="572.9" r="7.3" fill="#00ffff"/><circle cx="886.5" cy="627.5" r="7.3" fill="#00ffff"/><circle cx="912.3" cy="638.2" r="7.3" fill="#00ffff"/><circle cx="937.0" cy="592.8" r="7.3" fill="#00ffff"/><circle cx="962.9" cy="607.0" r="7.3" fill="#00ffff"/><circle cx="987.5" cy="558.6" r="7.3" fill="#00ffff"/><circle cx="1012.5" cy="558.6" r="7.3" fill="#00ffff"/><circle cx="1037.1" cy="452.8" r="7.3" fill="#00ffff"/><circle cx="685.8" cy="520.0" r="7.3" fill="#00ffff"/><text x="142.5" y="786.5" font-family="Liberation Sans, sans-serif" font-size="23" fill="#262626" text-anchor="end" textLength="13.0" lengthAdjust="spacingAndGlyphs">0</text><text x="142.5" y="716.8" font-family="Liberation Sans, sans-serif" font-size="23" fill="#262626" text-anchor="end" textLength="13.0" lengthAdjust="spacingAndGlyphs">2</text><text x="142.5" y="647.1" font-family="Liberation Sans, sans-serif" font-size="23" fill="#262626" text-anchor="end" textLength="13.0" lengthAdjust="spacingAndGlyphs">4</text><text x="142.5" y="577.4" font-family="Liberation Sans, sans-serif" font-size="23" fill="#262626" text-anchor="end" textLength="13.0" lengthAdjust="spacingAndGlyphs">6</text><text x="142.5" y="507.7" font-family="Liberation Sans, sans-serif" font-size="23" fill="#262626" text-anchor="end" textLength="13.0" lengthAdjust="spacingAndGlyphs">8</text><text x="142.5" y="438.0" font-family="Liberation Sans, sans-serif" font-size="23" fill="#262626" text-anchor="end" textLength="25.6" lengthAdjust="spacingAndGlyphs">10</text><text x="142.5" y="368.3" font-family="Liberation Sans, sans-serif" font-size="23" fill="#262626" text-anchor="end" textLength="25.6" lengthAdjust="spacingAndGlyphs">12</text><text x="142.5" y="298.6" font-family="Liberation Sans, sans-serif" font-size="23" fill="#262626" text-anchor="end" textLength="25.6" lengthAdjust="spacingAndGlyphs">14</text><text x="142.5" y="228.9" font-family="Liberation Sans, sans-serif" font-size="23" fill="#262626" text-anchor="end" textLength="25.6" lengthAdjust="spacingAndGlyphs">16</text><text x="142.5" y="159.2" font-family="Liberation Sans, sans-serif" font-size="23" fill="#262626" text-anchor="end" textLength="25.6" lengthAdjust="spacingAndGlyphs">18</text><text x="142.5" y="89.5" font-family="Liberation Sans, sans-serif" font-size="23" fill="#262626" text-anchor="end" textLength="25.6" lengthAdjust="spacingAndGlyphs">20</text><text transform="translate(138.6,801.2) rotate(45)" font-family="Liberation Sans, sans-serif" font-size="23" fill="#262626" textLength="58.6" lengthAdjust="spacingAndGlyphs">10/01</text><text transform="translate(188.8,801.2) rotate(45)" font-family="Liberation Sans, sans-serif" font-size="23" fill="#262626" textLength="58.6" lengthAdjust="spacingAndGlyphs">10/02</text><text transform="translate(239.0,801.2) rotate(45)" font-family="Liberation Sans, sans-serif" font-size="23" fill="#262626" textLength="58.6" lengthAdjust="spacingAndGlyphs">10/03</text><text transform="translate(289.3,801.2) rotate(45)" font-family="Liberation Sans, sans-serif" font-size="23" fill="#262626" textLength="58.6" lengthAdjust="spacingAndGlyphs">10/04</text><text transform="translate(339.5,801.2) rotate(45)" font-family="Liberation Sans, sans-serif" font-size="23" fill="#262626" textLength="58.6" lengthAdjust="spacingAndGlyphs">10/05</text><text transform="translate(389.7,801.2) rotate(45)" font-family="Liberation Sans, sans-serif" font-size="23" fill="#262626" textLength="58.6" lengthAdjust="spacingAndGlyphs">10/06</text><text transform="translate(439.9,801.2) rotate(45)" font-family="Liberation Sans, sans-serif" font-size="23" fill="#262626" textLength="58.6" lengthAdjust="spacingAndGlyphs">10/07</text><text transform="translate(490.2,801.2) rotate(45)" font-family="Liberation Sans, sans-serif" font-size="23" fill="#262626" textLength="58.6" lengthAdjust="spacingAndGlyphs">10/08</text><text transform="translate(540.4,801.2) rotate(45)" font-family="Liberation Sans, sans-serif" font-size="23" fill="#262626" textLength="58.6" lengthAdjust="spacingAndGlyphs">10/09</text><text transform="translate(590.6,801.2) rotate(45)" font-family="Liberation Sans, sans-serif" font-size="23" fill="#262626" textLength="58.6" lengthAdjust="spacingAndGlyphs">10/10</text><text transform="translate(640.8,801.2) rotate(45)" font-family="Liberation Sans, sans-serif" font-size="23" fill="#262626" textLength="58.6" lengthAdjust="spacingAndGlyphs">10/11</text><text transform="translate(691.0,801.2) rotate(45)" font-family="Liberation Sans, sans-serif" font-size="23" fill="#262626" textLength="58.6" lengthAdjust="spacingAndGlyphs">10/12</text><text transform="translate(741.3,801.2) rotate(45)" font-family="Liberation Sans, sans-serif" font-size="23" fill="#262626" textLength="58.6" lengthAdjust="spacingAndGlyphs">10/13</text><text transform="translate(791.5,801.2) rotate(45)" font-family="Liberation Sans, sans-serif" font-size="23" fill="#262626" textLength="58.6" lengthAdjust="spacingAndGlyphs">10/14</text><text transform="translate(841.7,801.2) rotate(45)" font-family="Liberation Sans, sans-serif" font-size="23" fill="#262626" textLength="58.6" lengthAdjust="spacingAndGlyphs">10/15</text><text transform="translate(891.9,801.2) rotate(45)" font-family="Liberation Sans, sans-serif" font-size="23" fill="#262626" textLength="58.6" lengthAdjust="spacingAndGlyphs">10/16</text><text transform="translate(942.2,801.2) rotate(45)" font-family="Liberation Sans, sans-serif" font-size="23" fill="#262626" textLength="58.6" lengthAdjust="spacingAndGlyphs">10/17</text><text transform="translate(992.4,801.2) rotate(45)" font-family="Liberation Sans, sans-serif" font-size="23" fill="#262626" textLength="58.6" lengthAdjust="spacingAndGlyphs">10/18</text><text transform="translate(1042.6,801.2) rotate(45)" font-family="Liberation Sans, sans-serif" font-size="23" fill="#262626" textLength="58.6" lengthAdjust="spacingAndGlyphs">10/19</text><text x="303.3" y="52.9" font-family="Liberation Sans, sans-serif" font-weight="bold" font-size="23" fill="#000" textLength="601.8" lengthAdjust="spacingAndGlyphs">NDBC 41040 vs GFS Winds: 5 to 7 day forecast</text><text transform="translate(104,529.8) rotate(-90)" font-family="Liberation Sans, sans-serif" font-size="23" fill="#262626" textLength="216" lengthAdjust="spacingAndGlyphs">Wind speed, m/sec</text><rect x="860.5" y="81.5" width="167" height="58" fill="#fff" stroke="#262626" stroke-width="1"/><path d="M868.4 97.5H931.4" stroke="#000" stroke-width="1"/><path d="M868.4 123.5H931.4" stroke="#00ffff" stroke-width="1"/><text x="938" y="104.2" font-family="Liberation Sans, sans-serif" font-size="20" fill="#000" textLength="45" lengthAdjust="spacingAndGlyphs">Buoy</text><text x="938" y="128.8" font-family="Liberation Sans, sans-serif" font-size="20" fill="#000" textLength="79.5" lengthAdjust="spacingAndGlyphs">Forecast</text></svg></body></html>
